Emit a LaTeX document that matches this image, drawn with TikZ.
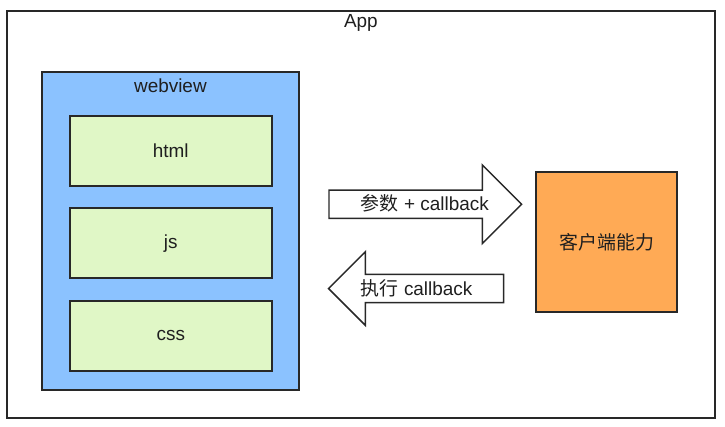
\documentclass[tikz,border=0pt]{standalone}
\usepackage{fontspec}
\setmainfont{Liberation Sans}
\newfontfamily\cjk{Noto Sans CJK SC}
\usetikzlibrary{positioning,shapes}
\definecolor{viewblue}{RGB}{139,194,255}
\definecolor{partgreen}{RGB}{224,247,198}
\definecolor{nativeorange}{RGB}{255,170,85}
\definecolor{edgegray}{RGB}{40,40,40}

\begin{document}
\begin{tikzpicture}[%
        every node/.style={inner sep=0pt, text=black!88, font=\fontsize{14.2pt}{17pt}\selectfont},
        box/.style={rectangle, draw=edgegray, line width=1.5pt},
        part/.style={box, fill=partgreen, minimum width=151.3pt, minimum height=52.3pt},
        flow/.style={single arrow, draw=edgegray, fill=white, line width=1.1pt, anchor=tail, text height=15pt, text depth=5pt},
        flowtxt/.style={text height=15pt, text depth=5pt},
        node distance=15.6pt
      ]
      \path [use as bounding box, fill=white] (0,0) rectangle (543.75pt,-320.25pt);
      \node [] (app) [box, minimum width=530.4pt, minimum height=305.9pt] at (270.7pt,-160.9pt) {};
      \node [] (applbl) [below=3.8pt of app.north] {App};
      \node [] (webview) [box, fill=viewblue, minimum width=193pt, minimum height=238.3pt] at (127.8pt,-173.4pt) {};
      \node [] (viewlbl) [below=5.3pt of webview.north] {webview};
      \node [] (html) [part] at (128.1pt,-113.1pt) {html};
      \node [] (js) [part, below=of html] {js};
      \node [] (css) [part, below=of js] {css};
      \node [] (native) [box, fill=nativeorange, minimum width=106pt, minimum height=104.5pt] at (455pt,-181.5pt) {{\cjk 客户端能力}};
      \node [] (call) [flow, minimum height=144.5pt, single arrow head extend=19pt] at (246.2pt,-153.2pt) {};
      \node [] (back) [flow, shape border rotate=180, minimum height=131.25pt, single arrow head extend=17.1pt] at (378.2pt,-216.4pt) {};
      \node [] (calltxt) [flowtxt, right=24.3pt of call.tail] {{\cjk 参数} + callback};
      \node [] (backtxt) [flowtxt, left=23.7pt of back.tail] {{\cjk 执行} callback};
    \end{tikzpicture}
\end{document}
